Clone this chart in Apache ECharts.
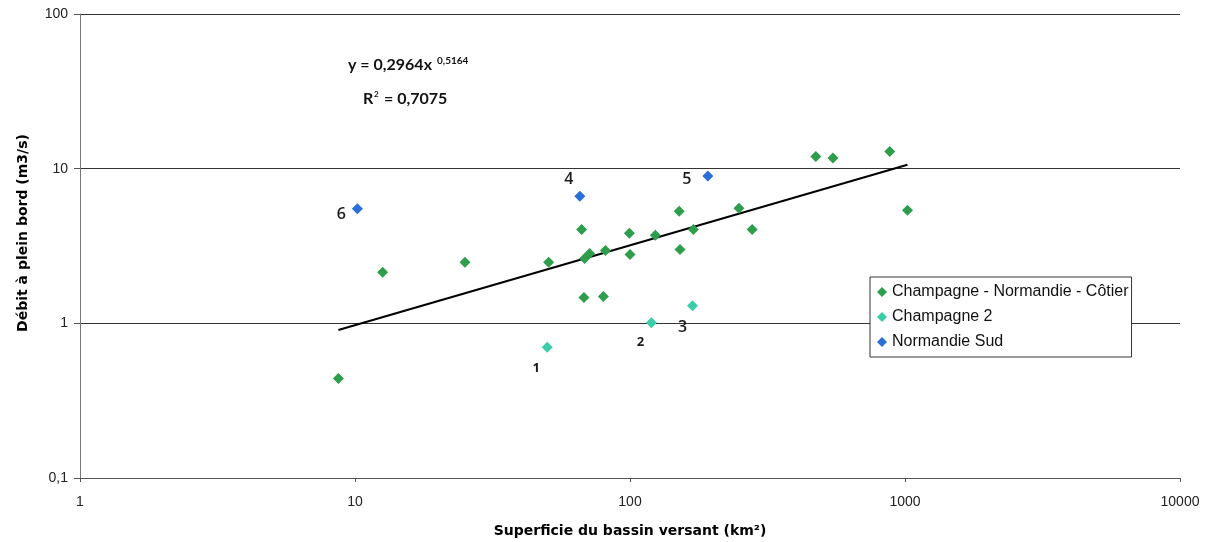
<!DOCTYPE html>
<html>
<head>
<meta charset="utf-8">
<script src="https://cdn.jsdelivr.net/npm/echarts@6/dist/echarts.min.js"></script>
<style>
html,body{margin:0;padding:0;background:#fff;}
#chart{width:1210px;height:542px;}
</style>
</head>
<body>
<div id="chart"></div>
<script>
// Champagne - Normandie - Côtier
const cncX = [8.7, 12.6, 25.1, 50.6, 66.7, 68.4, 71.3, 68.0, 81.4, 80.0, 99.5, 100, 123.6, 151, 152, 170, 249, 278, 474, 547, 880, 1021];
const cncY = [0.44, 2.14, 2.48, 2.48, 4.05, 2.63, 2.83, 1.47, 2.96, 1.49, 3.82, 2.79, 3.71, 5.3, 3.0, 4.05, 5.54, 4.05, 12.0, 11.7, 12.9, 5.38];
// Champagne 2
const ch2X = [50, 119.6, 168.8];
const ch2Y = [0.70, 1.01, 1.30];
const ch2Labels = ['1', '2', '3'];
// Normandie Sud
const nsX = [10.2, 65.7, 191.9];
const nsY = [5.51, 6.62, 8.96];
const nsLabels = ['6', '4', '5'];
// Power trend line endpoints (y = 0,2964x^0,5164)
const trendX = [8.7, 1021];
const trendY = [0.906, 10.6];
const yTicks = ['0,1', '1', '10', '100'];
const xTicks = ['1', '10', '100', '1000', '10000'];
const seriesNames = ['Champagne - Normandie - Côtier', 'Champagne 2', 'Normandie Sud'];

const zip = (xs, ys) => xs.map((x, i) => [x, ys[i]]);

const labelOffsets = {
  '1': [-11, 21], '2': [-11, 20], '3': [-10, 22],
  '4': [-11, -17], '5': [-21, 3], '6': [-16, 6]
};
const smallLabels = {'1': true, '2': true};

function labeled(xs, ys, labels) {
  return xs.map((x, i) => ({
    value: [x, ys[i]],
    label: {
      show: true,
      formatter: labels[i],
      position: 'inside',
      offset: labelOffsets[labels[i]],
      fontSize: smallLabels[labels[i]] ? 13 : 16,
      fontWeight: smallLabels[labels[i]] ? 'bold' : 600,
      color: '#1a1a1a',
      fontFamily: 'Open Sans'
    }
  }));
}

const eqText = {fontSize: 16, fontWeight: 'bold', fontFamily: 'Lato', fill: '#111'};

const chart = echarts.init(document.getElementById('chart'));
chart.setOption({
  animation: false,
  backgroundColor: '#fff',
  grid: {left: 80, right: 30, top: 14, bottom: 64, containLabel: false, outerBoundsMode: 'none'},
  xAxis: {
    type: 'log', logBase: 10, min: 1, max: 10000,
    name: 'Superficie du bassin versant (km²)',
    nameLocation: 'middle', nameGap: 46,
    nameTextStyle: {fontWeight: 'bold', fontSize: 14, color: '#000', fontFamily: 'DejaVu Sans'},
    axisLine: {onZero: false, lineStyle: {color: '#555', width: 1}},
    axisTick: {show: true, length: 4, lineStyle: {color: '#555'}},
    axisLabel: {color: '#222', fontSize: 14, margin: 17, fontFamily: 'Liberation Sans',
      formatter: v => { const i = Math.round(Math.log10(v)); return xTicks[i] !== undefined ? xTicks[i] : String(v); }},
    splitLine: {show: false},
    minorTick: {show: false}
  },
  yAxis: {
    type: 'log', logBase: 10, min: 0.1, max: 100,
    name: 'Débit à plein bord (m3/s)',
    nameLocation: 'middle', nameGap: 50, nameRotate: 90,
    nameTextStyle: {fontWeight: 'bold', fontSize: 14, color: '#000', fontFamily: 'DejaVu Sans', padding: [0, 0, 0, 26]},
    axisLine: {show: true, onZero: false, lineStyle: {color: '#777', width: 1}},
    axisTick: {show: true, length: 6, lineStyle: {color: '#555'}},
    axisLabel: {color: '#222', fontSize: 14, margin: 12, fontFamily: 'Liberation Sans',
      formatter: v => { const i = Math.round(Math.log10(v)) + 1; return yTicks[i] !== undefined ? yTicks[i] : String(v).replace('.', ','); }},
    splitLine: {show: true, lineStyle: {color: '#333', width: 1}}
  },
  legend: {
    show: true,
    data: seriesNames.map(n => ({name: n, icon: 'diamond'})),
    orient: 'vertical',
    left: 870, top: 277,
    padding: [7, 3, 7, 7],
    itemGap: 9,
    itemWidth: 10, itemHeight: 10,
    backgroundColor: '#fff',
    borderColor: '#333', borderWidth: 1,
    textStyle: {fontSize: 16, color: '#111', fontFamily: 'Liberation Sans'}
  },
  graphic: [
    {type: 'text', left: 348, top: 57, style: Object.assign({text: 'y = 0,2964x'}, eqText)},
    {type: 'text', left: 437, top: 56, style: Object.assign({}, eqText, {text: '0,5164', fontSize: 10})},
    {type: 'text', left: 363, top: 91, style: Object.assign({text: 'R'}, eqText)},
    {type: 'text', left: 374, top: 90, style: Object.assign({}, eqText, {text: '2', fontSize: 8})},
    {type: 'text', left: 384, top: 91, style: Object.assign({text: '= 0,7075'}, eqText)}
  ],
  series: [
    {
      name: seriesNames[0], type: 'scatter', symbol: 'diamond', symbolSize: 11,
      itemStyle: {color: '#2e9d4c', opacity: 1},
      data: zip(cncX, cncY), z: 3
    },
    {
      name: seriesNames[1], type: 'scatter', symbol: 'diamond', symbolSize: 11,
      itemStyle: {color: '#3cccaa', opacity: 1},
      data: labeled(ch2X, ch2Y, ch2Labels), z: 3
    },
    {
      name: seriesNames[2], type: 'scatter', symbol: 'diamond', symbolSize: 11,
      itemStyle: {color: '#2a6fd6', opacity: 1},
      data: labeled(nsX, nsY, nsLabels), z: 3
    },
    {
      name: 'trend', type: 'line', showSymbol: false, symbol: 'none',
      lineStyle: {color: '#000', width: 2},
      data: zip(trendX, trendY), z: 2, silent: true
    }
  ]
});
</script>
</body>
</html>
